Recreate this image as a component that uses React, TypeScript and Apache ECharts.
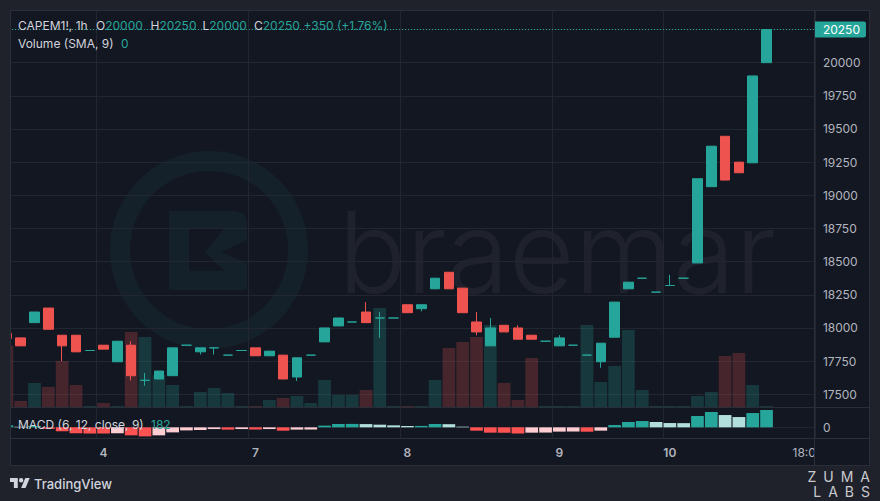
import React, { useEffect, useRef } from "react";
import * as echarts from "echarts";

// ---------- data ----------
const categories = [
  "3 12:00", "3 13:00", "3 14:00", "3 15:00", "3 16:00", "3 17:00", "3 18:00",
  "4 08:00", "4 09:00", "4 10:00", "4 11:00", "4 12:00", "4 13:00", "4 14:00", "4 15:00", "4 16:00", "4 17:00", "4 18:00",
  "7 08:00", "7 09:00", "7 10:00", "7 11:00", "7 12:00", "7 13:00", "7 14:00", "7 15:00", "7 16:00", "7 17:00", "7 18:00",
  "8 08:00", "8 09:00", "8 10:00", "8 11:00", "8 12:00", "8 13:00", "8 14:00", "8 15:00", "8 16:00", "8 17:00", "8 18:00",
  "9 08:00", "9 09:00", "9 10:00", "9 11:00", "9 12:00", "9 13:00", "9 14:00", "9 15:00",
  "10 08:00", "10 09:00", "10 10:00", "10 11:00", "10 12:00", "10 13:00", "10 14:00", "10 15:00", "10 16:00", "10 17:00", "10 18:00",
];

const opens = [
  17960, 17925, 18040, 18150, 17945, 17945, 17830, 17870, 17745, 17870,
  17605, 17615, 17640, 17870, 17820, 17850, 17795, 17830, 17850, 17790,
  17795, 17630, 17795, 17895, 18015, 18045, 18120, 18075, 18075, 18175,
  18145, 18295, 18420, 18300, 18045, 17865, 18020, 18000, 17945, 17900,
  17865, 17870, 17795, 17745, 17930, 18295, 18375, 18270, 18320, 18375,
  18490, 19065, 19445, 19250, 19245, 20000,
];
const closes = [
  17920, 17865, 18120, 17990, 17865, 17820, 17830, 17840, 17900, 17640,
  17605, 17675, 17850, 17870, 17850, 17850, 17795, 17830, 17790, 17825,
  17615, 17775, 17795, 18000, 18075, 18045, 18040, 18075, 18075, 18115,
  18175, 18375, 18295, 18115, 17970, 18000, 17970, 17915, 17915, 17900,
  17925, 17870, 17795, 17885, 18195, 18345, 18375, 18270, 18320, 18375,
  19125, 19370, 19115, 19170, 19900, 20250,
];
const lows = [
  17900, 17865, 18040, 17990, 17750, 17820, 17830, 17840, 17745, 17605,
  17565, 17615, 17640, 17870, 17800, 17800, 17795, 17830, 17790, 17790,
  17615, 17600, 17795, 17895, 18015, 18045, 18040, 17925, 18075, 18115,
  18125, 18295, 18295, 18115, 17945, 17865, 17970, 17915, 17915, 17900,
  17865, 17870, 17795, 17700, 17930, 18295, 18375, 18270, 18320, 18375,
  18490, 19065, 19115, 19170, 19245, 20000,
];
const highs = [
  17975, 17925, 18120, 18150, 17945, 17945, 17830, 17870, 17900, 17900,
  17660, 17675, 17850, 17870, 17850, 17850, 17795, 17830, 17850, 17825,
  17795, 17775, 17795, 18000, 18075, 18045, 18195, 18120, 18075, 18175,
  18175, 18375, 18420, 18300, 18120, 18075, 18020, 18020, 17945, 17900,
  17945, 17870, 17795, 17885, 18195, 18345, 18375, 18270, 18400, 18375,
  19125, 19370, 19445, 19250, 19900, 20250,
];
const volumes = [
  610, 60, 240, 200, 460, 220, 10, 40, 10, 750,
  700, 320, 220, 10, 150, 190, 140, 10, 10, 70,
  90, 110, 40, 270, 120, 120, 170, 990, 10, 10,
  10, 270, 590, 650, 700, 820, 240, 70, 490, 10,
  10, 10, 820, 250, 410, 770, 170, 10, 10, 10,
  110, 150, 510, 540, 220, 10,
];
const macdHist = [
  21, 6, 13, -16, -42, -63, -65, -66, -63, -84,
  -95, -84, -53, -32, -28, -18, -24, -18, -24, -18,
  -35, -24, -23, 18, 35, 36, 34, 28, 21, 14,
  15, 35, 33, 7, -35, -56, -57, -66, -56, -55,
  -45, -44, -46, -35, 24, 56, 66, 56, 45, 44,
  119, 161, 129, 108, 150, 182,
];
const priceTicks = [17500, 17750, 18000, 18250, 18500, 18750, 19000, 19250, 19500, 19750, 20000];
const priceGridTicks = [...priceTicks, 20250];
const macdTicks = [0];
const symbolTitle = "CAPEM1!, 1h";
const volumeTitle = "Volume (SMA, 9)";
const macdTitle = "MACD (6, 12, close, 9)";

// ---------- styles ----------
const FONT = 'Inter, "Noto Sans", Roboto, sans-serif';
const UP = "#26a69a";
const DOWN = "#ef5350";
const FRAME = "#1f222b";
const PANE = "#131722";
const GRID = "#222631";
const SEP = "#2a2e39";
const TEXT = "#d1d4dc";
const AXIS_TEXT = "#b2b5be";

echarts.graphic.registerShape(
  "tvLogo",
  echarts.graphic.extendPath(
    "M14 22H7V11H0V4h14v18zM28 22h-8l7.5-18h8L28 22zM24 8a4 4 0 1 1-8 0a4 4 0 1 1 8 0z",
    {}
  )
);
echarts.graphic.registerShape(
  "braemarB",
  echarts.graphic.extendPath(
    "M0 0H64Q78 0 78 14V29L52 41L78 52V79H0ZM20 17V60H56L36 41L56 17Z",
    {}
  )
);

const n = opens.length;
const last = n - 1;
const change = closes[last] - closes[last - 1];
const changePct = (change / closes[last - 1]) * 100;

function isDayStart(v: string) {
  return v.endsWith(" 08:00");
}

export default function App() {
  const ref = useRef<HTMLDivElement>(null);

  useEffect(() => {
    const chart = echarts.init(ref.current!, null, { renderer: "svg" });

    const candleData = opens.map((o, i) => [o, closes[i], lows[i], highs[i]]);
    const volData = volumes.map((v, i) => ({
      value: v,
      itemStyle: { color: closes[i] >= opens[i] ? "rgba(38,166,154,0.24)" : "rgba(239,83,80,0.24)" },
    }));
    const macdData = macdHist.map((v, i) => {
      const prev = i > 0 ? macdHist[i - 1] : null;
      let c;
      if (v >= 0) c = prev === null || v > prev ? "#26a69a" : "#b2dfdb";
      else c = prev === null || v < prev ? "#ff5252" : "#ffcdd2";
      return { value: v, itemStyle: { color: c } };
    });

    const gridLeft = -1.42;
    const gridWidth = 816.3;
    const valueRich = {
      l: { fill: TEXT, fontSize: 12, fontFamily: FONT },
      v: { fill: UP, fontSize: 12, fontFamily: FONT },
    };

    const option: any = {
      animation: false,
      backgroundColor: FRAME,
      textStyle: { fontFamily: FONT },
      grid: [
        { left: gridLeft, top: 10, width: gridWidth, height: 397 },
        { left: gridLeft, top: 408, width: gridWidth, height: 30 },
      ],
      xAxis: [
        {
          type: "category",
          gridIndex: 0,
          data: categories,
          boundaryGap: true,
          axisLine: { show: false },
          axisTick: { show: false },
          axisLabel: { show: false },
          splitLine: {
            show: true,
            interval: (_i: number, v: string) => isDayStart(v),
            lineStyle: { color: GRID, width: 1 },
          },
        },
        {
          type: "category",
          gridIndex: 1,
          data: categories,
          boundaryGap: true,
          axisLine: { show: false },
          axisTick: { show: false },
          axisLabel: {
            show: true,
            margin: 8,
            interval: (_i: number, v: string) => isDayStart(v) || v === "10 18:00",
            formatter: (v: string) =>
              isDayStart(v) ? "{d|" + v.split(" ")[0] + "}" : "{t|" + v.split(" ")[1] + "}",
            rich: {
              d: { color: AXIS_TEXT, fontSize: 12, fontWeight: 600, fontFamily: FONT },
              t: { color: AXIS_TEXT, fontSize: 12, fontFamily: FONT },
            },
          },
          splitLine: {
            show: true,
            interval: (_i: number, v: string) => isDayStart(v),
            lineStyle: { color: GRID, width: 1 },
          },
        },
      ],
      yAxis: [
        {
          type: "value",
          gridIndex: 0,
          position: "right",
          min: 17404,
          max: 20397,
          axisLine: { show: false },
          axisTick: { show: false, customValues: priceGridTicks },
          axisLabel: {
            customValues: priceTicks,
            formatter: (v: number) => String(v),
            color: AXIS_TEXT,
            fontSize: 12,
            margin: 8,
            fontFamily: FONT,
          },
          splitLine: { show: true, lineStyle: { color: GRID, width: 1 } },
        },
        {
          type: "value",
          gridIndex: 0,
          min: 0,
          max: 3970,
          show: false,
          splitLine: { show: false },
        },
        {
          type: "value",
          gridIndex: 1,
          position: "right",
          min: -112,
          max: 203,
          axisLine: { show: false },
          axisTick: { show: false, customValues: macdTicks },
          axisLabel: {
            customValues: macdTicks,
            formatter: (v: number) => String(v),
            color: AXIS_TEXT,
            fontSize: 12,
            margin: 8,
            fontFamily: FONT,
          },
          splitLine: { show: true, lineStyle: { color: GRID, width: 1 } },
        },
      ],
      series: [
        {
          name: "Volume",
          type: "bar",
          xAxisIndex: 0,
          yAxisIndex: 1,
          data: volData,
          barWidth: "92%",
          z: 1,
        },
        {
          name: "CAPEM1!",
          type: "candlestick",
          xAxisIndex: 0,
          yAxisIndex: 0,
          data: candleData,
          barWidth: 10,
          z: 3,
          itemStyle: {
            color: UP,
            color0: DOWN,
            borderColor: UP,
            borderColor0: DOWN,
            borderColorDoji: UP,
            borderWidth: 1,
          },
          markLine: {
            silent: true,
            symbol: ["none", "none"],
            lineStyle: { color: UP, type: [1, 2], width: 1 },
            label: {
              show: true,
              position: "end",
              distance: 0,
              formatter: String(closes[last]),
              color: "#ffffff",
              fontSize: 12,
              fontFamily: FONT,
              lineHeight: 14,
              backgroundColor: UP,
              padding: [1, 6, 1, 8],
              borderRadius: [0, 2, 2, 0],
            },
            data: [{ yAxis: closes[last] }],
          },
        },
        {
          name: "MACD",
          type: "bar",
          xAxisIndex: 1,
          yAxisIndex: 2,
          data: macdData,
          barWidth: "92%",
          markLine: {
            silent: true,
            symbol: ["none", "none"],
            lineStyle: { opacity: 0 },
            label: {
              show: true,
              position: "end",
              distance: 0,
              verticalAlign: "top",
              formatter: String(macdHist[last]),
              color: "#ffffff",
              fontSize: 12,
              fontFamily: FONT,
              lineHeight: 14,
              backgroundColor: UP,
              padding: [1, 5, 1, 8],
              borderRadius: [0, 2, 2, 0],
            },
            data: [{ yAxis: macdHist[last] }],
          },
        },
      ],
      graphic: [
        // pane background
        { type: "rect", z: -10, shape: { x: 10, y: 10, width: 860, height: 456 }, style: { fill: PANE } },
        // watermark
        {
          type: "ring",
          z: -5,
          shape: { cx: 209, cy: 250, r: 99, r0: 79 },
          style: { fill: "rgba(38,166,154,0.075)" },
        },
        {
          type: "braemarB",
          z: -5,
          x: 169,
          y: 211,
          style: { fill: "rgba(38,166,154,0.075)" },
        },
        {
          type: "text",
          z: -5,
          x: 557,
          y: 252,
          style: {
            text: "braemar",
            fill: "rgba(255,255,255,0.05)",
            fontSize: 113,
            fontWeight: 300,
            fontFamily: FONT,
            align: "center",
            verticalAlign: "middle",
          },
        },
        // frame covers
        { type: "rect", z: 50, shape: { x: 0, y: 0, width: 11.2, height: 501 }, style: { fill: FRAME } },
        { type: "rect", z: 50, shape: { x: 815, y: 439, width: 55, height: 27 }, style: { fill: PANE } },
        // separators and border
        { type: "rect", z: 51, shape: { x: 10.5, y: 10.5, width: 859, height: 455 }, style: { fill: "none", stroke: SEP, lineWidth: 1 } },
        { type: "line", z: 51, shape: { x1: 814.5, y1: 10, x2: 814.5, y2: 466 }, style: { stroke: SEP, lineWidth: 1 } },
        { type: "line", z: 51, shape: { x1: 10, y1: 407.5, x2: 870, y2: 407.5 }, style: { stroke: SEP, lineWidth: 1 } },
        { type: "line", z: 51, shape: { x1: 10, y1: 438.5, x2: 870, y2: 438.5 }, style: { stroke: SEP, lineWidth: 1 } },
        // legends
        {
          type: "text", z: 60, x: 18, y: 25,
          style: { text: symbolTitle, fill: TEXT, fontSize: 12, fontFamily: FONT, verticalAlign: "middle" },
        },
        {
          type: "text", z: 60, x: 96, y: 25,
          style: { text: "{l|O}{v|" + opens[last] + "}", fontSize: 12, fontFamily: FONT, verticalAlign: "middle", rich: valueRich },
        },
        {
          type: "text", z: 60, x: 150.5, y: 25,
          style: { text: "{l|H}{v|" + highs[last] + "}", fontSize: 12, fontFamily: FONT, verticalAlign: "middle", rich: valueRich },
        },
        {
          type: "text", z: 60, x: 202.5, y: 25,
          style: { text: "{l|L}{v|" + lows[last] + "}", fontSize: 12, fontFamily: FONT, verticalAlign: "middle", rich: valueRich },
        },
        {
          type: "text", z: 60, x: 254, y: 25,
          style: { text: "{l|C}{v|" + closes[last] + "}", fontSize: 12, fontFamily: FONT, verticalAlign: "middle", rich: valueRich },
        },
        {
          type: "text", z: 60, x: 303.5, y: 25,
          style: {
            text: "+" + change + " (+" + changePct.toFixed(2) + "%)",
            fill: UP, fontSize: 12, fontFamily: FONT, verticalAlign: "middle",
          },
        },
        {
          type: "text", z: 60, x: 18, y: 43.5,
          style: { text: volumeTitle, fill: TEXT, fontSize: 12, fontFamily: FONT, verticalAlign: "middle" },
        },
        {
          type: "text", z: 60, x: 121, y: 43.5,
          style: { text: "0", fill: UP, fontSize: 12, fontFamily: FONT, verticalAlign: "middle" },
        },
        {
          type: "text", z: 60, x: 18, y: 424,
          style: { text: macdTitle, fill: TEXT, fontSize: 12, fontFamily: FONT, verticalAlign: "middle" },
        },
        {
          type: "text", z: 60, x: 151, y: 424,
          style: { text: String(macdHist[last]), fill: UP, fontSize: 12, fontFamily: FONT, verticalAlign: "middle" },
        },
        // footer
        {
          type: "tvLogo", z: 60, x: 10, y: 475.8, scaleX: 0.556, scaleY: 0.556,
          style: { fill: TEXT },
        },
        {
          type: "text", z: 60, x: 34, y: 484,
          style: { text: "TradingView", fill: TEXT, fontSize: 13, fontWeight: 500, fontFamily: FONT, verticalAlign: "middle" },
        },
        {
          type: "text", z: 60, x: 870, y: 484,
          style: {
            text: "Z\u2002U\u2002M\u2002A\nL\u2002A\u2002B\u2002S",
            fill: "#c9cacf",
            fontSize: 14,
            lineHeight: 15,
            fontFamily: FONT,
            align: "right",
            verticalAlign: "middle",
          },
        },
      ],
    };

    chart.setOption(option);
    return () => chart.dispose();
  }, []);

  return (
    <div
      ref={ref}
      style={{ position: "fixed", left: 0, top: 0, width: 880, height: 501 }}
    />
  );
}
